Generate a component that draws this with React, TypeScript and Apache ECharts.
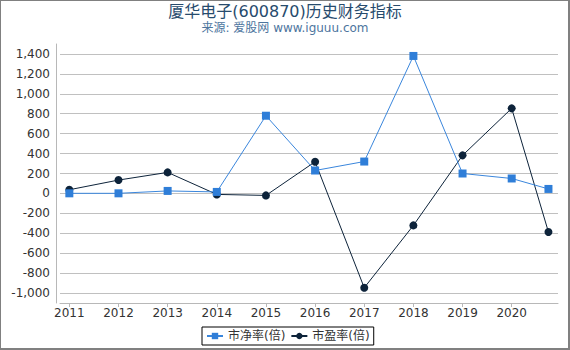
import React, { useEffect, useRef } from "react";
import * as echarts from "echarts";

const titleText = "厦华电子(600870)历史财务指标";
const subtitleText = "来源: 爱股网 www.iguuu.com";
const seriesNames = ["市净率(倍)", "市盈率(倍)"];
const yearLabels = ["2011", "2012", "2013", "2014", "2015", "2016", "2017", "2018", "2019", "2020"];
const reportDates = [
  "2011-12-31", "2012-12-31", "2013-12-31", "2014-12-31", "2015-12-31",
  "2016-12-31", "2017-12-31", "2018-12-31", "2019-12-31", "2020-12-31", "2021-09-30",
];
const pbValues = [1, 1, 25, 15, 780, 230, 320, 1380, 200, 150, 45];
const peValues = [37, 134, 211, -10, -20, 318, -947, -321, 382, 854, -388];
const yTickValues = [-1000, -800, -600, -400, -200, 0, 200, 400, 600, 800, 1000, 1200, 1400];

// date string -> fractional year (e.g. 2011-12-31 -> ~2012.0)
const toYear = (s: string) => {
  const [y, m, d] = s.split("-").map(Number);
  const start = Date.UTC(y, 0, 1);
  const end = Date.UTC(y + 1, 0, 1);
  return y + (Date.UTC(y, m - 1, d) + 86400000 - start) / (end - start);
};

const FONT = '"DejaVu Sans", "Noto Sans CJK SC", sans-serif';

export default function App() {
  const ref = useRef<HTMLDivElement>(null);
  useEffect(() => {
    if (!ref.current) return;
    const chart = echarts.init(ref.current, undefined, { renderer: "svg" });
    const xTicks = yearLabels.map((y) => toYear(`${y}-12-31`));
    chart.setOption({
      animation: false,
      backgroundColor: "#ffffff",
      textStyle: { fontFamily: FONT },
      title: [
        {
          text: titleText,
          left: "center",
          top: 3,
          padding: 0,
          textStyle: { fontSize: 16, fontWeight: "normal", color: "#274b6d", fontFamily: FONT },
        },
        {
          text: subtitleText,
          left: "center",
          top: 22,
          padding: 0,
          textStyle: { fontSize: 12, fontWeight: "normal", color: "#4d759e", fontFamily: FONT },
        },
      ],
      legend: {
        data: seriesNames,
        left: 202,
        top: 327,
        orient: "horizontal",
        borderColor: "#000",
        borderWidth: 1,
        padding: [3, 4, 3, 4],
        itemGap: 5,
        itemWidth: 16,
        itemHeight: 8,
        textStyle: { fontSize: 12, color: "#333", fontFamily: FONT },
      },
      grid: { left: 60, right: 12, top: 44, bottom: 47, containLabel: false },
      xAxis: {
        type: "value",
        min: xTicks[0] - 0.19,
        max: xTicks[xTicks.length - 1] + 0.942,
        axisLine: { show: true, onZero: false, lineStyle: { color: "#b8b8b8", width: 1 } },
        axisTick: { show: true, length: 4, customValues: xTicks, lineStyle: { color: "#b8b8b8" } },
        axisLabel: {
          customValues: xTicks,
          margin: 4,
          fontSize: 12,
          color: "#333",
          fontFamily: FONT,
          showMinLabel: true,
          showMaxLabel: true,
          formatter: (v: number) => String(Math.round(v) - 1),
        },
        splitLine: { show: false },
      },
      yAxis: {
        type: "value",
        min: -1100,
        max: 1500,
        offset: 4,
        axisLine: { show: true, lineStyle: { color: "#b8b8b8", width: 1 } },
        axisTick: { show: false, customValues: yTickValues },
        axisLabel: {
          customValues: yTickValues,
          margin: 6,
          fontSize: 12,
          color: "#333",
          fontFamily: FONT,
          formatter: (v: number) => v.toLocaleString("en-US"),
        },
        splitLine: { show: true, lineStyle: { color: "#c0c0c0", width: 1 } },
      },
      series: [
        {
          name: seriesNames[0],
          type: "line",
          z: 4,
          data: reportDates.map((d, i) => [toYear(d), pbValues[i]]),
          symbol: "rect",
          symbolSize: 8,
          itemStyle: { color: "#2f7ed8" },
          lineStyle: { color: "#3a86dc", width: 1 },
        },
        {
          name: seriesNames[1],
          type: "line",
          z: 3,
          data: reportDates.map((d, i) => [toYear(d), peValues[i]]),
          symbol: "circle",
          symbolSize: 8,
          itemStyle: { color: "#0d233a" },
          lineStyle: { color: "#0d233a", width: 1 },
        },
      ],
    });
    return () => chart.dispose();
  }, []);
  return (
    <div style={{ position: "fixed", left: 0, top: 0, width: 570, height: 350 }}>
      <div ref={ref} style={{ position: "absolute", left: 0, top: 0, width: 570, height: 350 }} />
      <div
        style={{
          position: "absolute",
          left: 0,
          top: 0,
          width: 570,
          height: 350,
          boxSizing: "border-box",
          borderTop: "1px solid #808080",
          borderLeft: "1px solid #808080",
          borderRight: "2px solid #808080",
          borderBottom: "2px solid #808080",
          pointerEvents: "none",
        }}
      />
    </div>
  );
}
